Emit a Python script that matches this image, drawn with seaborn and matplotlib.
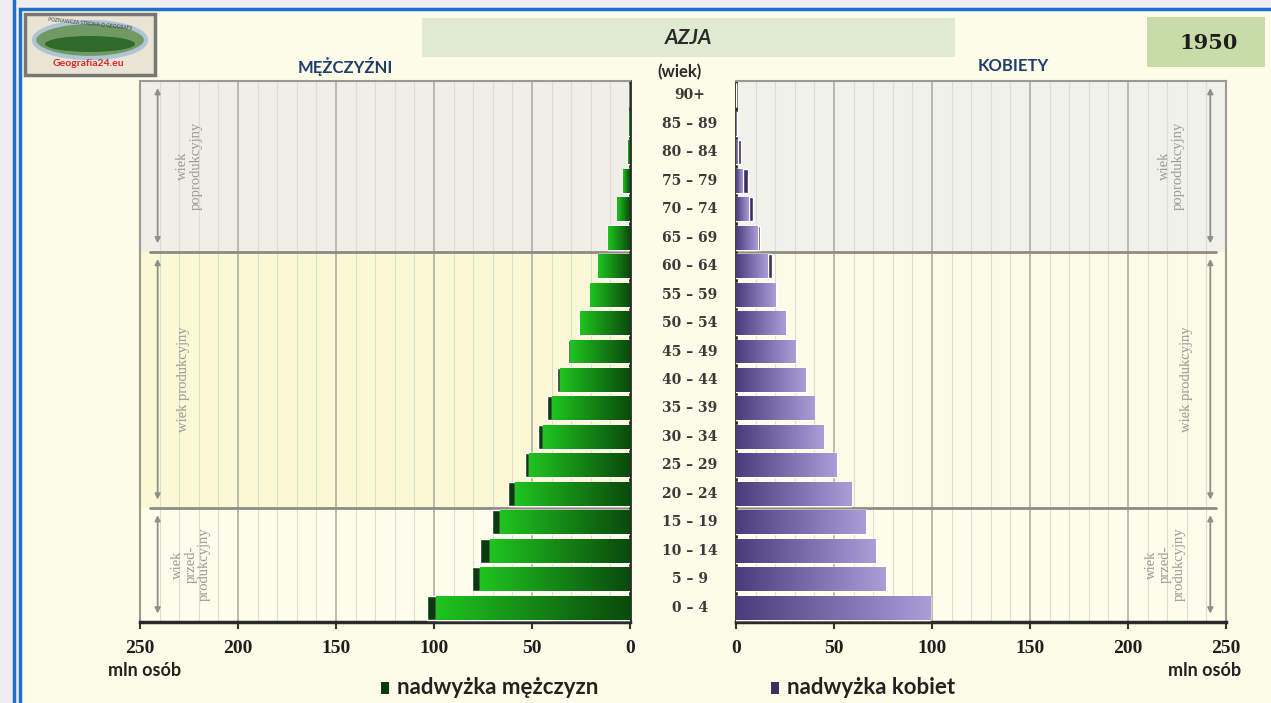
import numpy as np
import pandas as pd
import matplotlib
matplotlib.use("Agg")
import matplotlib.pyplot as plt
import seaborn as sns
import matplotlib.transforms as mtransforms
from matplotlib.colors import LinearSegmentedColormap
from matplotlib.patches import Rectangle, FancyArrowPatch, Ellipse

# ---------------- data ----------------
age_groups = ['0 – 4', '5 – 9', '10 – 14', '15 – 19', '20 – 24', '25 – 29', '30 – 34',
              '35 – 39', '40 – 44', '45 – 49', '50 – 54', '55 – 59', '60 – 64', '65 – 69',
              '70 – 74', '75 – 79', '80 – 84', '85 – 89', '90+']
males = [103.7, 80.8, 76.5, 70.6, 62.0, 53.6, 46.8, 42.5, 37.4, 31.8, 26.0, 20.4,
         16.2, 11.0, 6.5, 3.4, 1.0, 0.3, 0.0]
females = [99.0, 76.5, 71.4, 66.3, 58.7, 51.5, 44.6, 39.9, 35.7, 30.6, 25.5, 20.9,
           18.4, 12.2, 8.8, 5.9, 2.5, 0.6, 0.1]
x_ticks = [0, 50, 100, 150, 200, 250]
band_labels = ['wiek\nprzed-\nprodukcyjny', 'wiek produkcyjny', 'wiek\npoprodukcyjny']
band_ranges = [(0, 3), (4, 12), (13, 18)]   # index ranges in age_groups
title = 'AZJA'
year = '1950'
left_title = 'MĘŻCZYŹNI'
right_title = 'KOBIETY'
legend_m = 'nadwyżka mężczyzn'
legend_f = 'nadwyżka kobiet'
unit = 'mln osób'

# ---------------- style ----------------
sns.set_theme(style="white")
plt.rcParams['font.family'] = ['Lato', 'DejaVu Sans']

W, H = 1271, 703
cream = '#fcfce8'
green_inner, green_outer, green_surplus = '#0a4a0c', '#1fc41f', '#0b3a0d'
purple_inner, purple_outer, purple_surplus = '#4a3c7c', '#ab9dd8', '#3b2f5e'
serif = ['Liberation Serif', 'DejaVu Serif']

df = pd.DataFrame({'age': age_groups, 'male': males, 'female': females})
df['m_base'] = np.minimum(df['male'], df['female'])
df['f_base'] = np.minimum(df['male'], df['female'])
order = age_groups[::-1]
n = len(age_groups)

fig = plt.figure(figsize=(W / 100, H / 100), dpi=100)
fig.patch.set_facecolor('#efedf0')

# background / decoration layer in pixel coordinates
bg = fig.add_axes([0, 0, 1, 1], zorder=-5)
bg.set_xlim(0, W)
bg.set_ylim(H, 0)
bg.axis('off')
bg.add_patch(Rectangle((20, 9), W, H, facecolor=cream, edgecolor='#1f6fc8', lw=2.5))
bg.plot([14, 14], [0, H], color='#1f6fc8', lw=2.5)
# title boxes
bg.add_patch(Rectangle((422, 18), 533, 39, facecolor='#e0e9d2', edgecolor='none'))
bg.text(689, 37.5, title, ha='center', va='center', fontsize=15, fontweight='bold',
        fontstyle='italic', color='#2a2a2a')
bg.add_patch(Rectangle((1147, 17), 118, 50, facecolor='#c8dca8', edgecolor='none'))
bg.text(1209, 43, year, ha='center', va='center', fontsize=15, fontweight='bold',
        family=['DejaVu Serif'], color='#1e1e1e')
# logo
bg.add_patch(Rectangle((25, 14), 130, 61, facecolor='#e9e4d4', edgecolor='#777777', lw=2.5))
bg.add_patch(Ellipse((90, 40), 112, 36, facecolor='#6f9a64', edgecolor='#b0c4d8', lw=3))
bg.add_patch(Ellipse((90, 44), 90, 16, facecolor='#2f6a2a', edgecolor='none'))
bg.text(90, 24, 'POZNAWCZA STRONA O GEOGRAFII', ha='center', va='center', fontsize=3.5,
        color='#333333', rotation=-6)
bg.text(88, 63, 'Geografia24.eu', ha='center', va='center', fontsize=7.5, fontweight='bold',
        color='#d8282a')
# headers
bg.text(345, 66, left_title, ha='center', va='center', fontsize=12, fontweight='bold', color='#1f3d6e')
bg.text(1013, 66, right_title, ha='center', va='center', fontsize=12, fontweight='bold', color='#1f3d6e')
bg.text(680, 72, '(wiek)', ha='center', va='center', fontsize=12, fontweight='bold', color='#2b2b2b')
bg.text(145, 671, unit, ha='center', va='center', fontsize=13, fontweight='bold', color='#222222')
bg.text(1205, 671, unit, ha='center', va='center', fontsize=13, fontweight='bold', color='#222222')
# legend
bg.add_patch(Rectangle((381, 682), 8, 12, facecolor=green_surplus, edgecolor='none'))
bg.text(397, 688, legend_m, ha='left', va='center', fontsize=16, fontweight='bold', color='#222222')
bg.add_patch(Rectangle((771, 682), 8, 12, facecolor=purple_surplus, edgecolor='none'))
bg.text(787, 688, legend_f, ha='left', va='center', fontsize=16, fontweight='bold', color='#222222')

# plot axes
ax_b = (H - 622) / H
ax_h = (622 - 81) / H
axL = fig.add_axes([140 / W, ax_b, 490 / W, ax_h])
axR = fig.add_axes([736 / W, ax_b, 490 / W, ax_h])


def add_gradient(ax, patches, c_in, c_out):
    cmap = LinearSegmentedColormap.from_list('g', [c_in, c_out])
    grad = np.linspace(0, 1, 256).reshape(1, -1)
    for p in patches:
        w = p.get_width()
        if w <= 0:
            continue
        x0, y0, h = p.get_x(), p.get_y(), p.get_height()
        im = ax.imshow(grad, extent=[x0, x0 + w, y0 + h, y0], cmap=cmap, aspect='auto',
                       interpolation='bicubic', zorder=p.get_zorder() + 0.1)
        im.set_clip_path(p)


def style_panel(ax, side, c_in, c_out, c_sur, col_total, col_base, band_cols):
    ax.set_facecolor('none')
    sns.barplot(data=df, x=col_total, y='age', order=order, orient='h', color=c_sur,
                saturation=1, width=0.84, errorbar=None, ax=ax, zorder=3)
    n1 = len(ax.patches)
    sns.barplot(data=df, x=col_base, y='age', order=order, orient='h', color=c_in,
                saturation=1, width=0.84, errorbar=None, ax=ax, zorder=4)
    base_patches = ax.patches[n1:]
    add_gradient(ax, base_patches, c_in, c_out)

    # age bands
    for (lo, hi), col in zip(band_ranges, band_cols):
        ax.axhspan((n - 1 - lo) + 0.5, (n - 1 - hi) - 0.5, color=col, zorder=0, lw=0)
    for lo, hi in band_ranges[:-1]:
        ax.plot([0, 245], [(n - 1 - hi) - 0.5] * 2, color='#8c8c82', lw=2, zorder=2)

    # arrows + band labels
    xa = 241 if side == 'L' else 242
    for (lo, hi), lab in zip(band_ranges, band_labels):
        y_lo = (n - 1 - lo) + 0.3
        y_hi = (n - 1 - hi) - 0.35
        ax.add_patch(FancyArrowPatch((xa, y_lo), (xa, y_hi), arrowstyle='<|-|>',
                                     mutation_scale=8, color='#8f8f86', lw=1.3, zorder=2))
        if lab == 'wiek produkcyjny':
            xx = 228 if side == 'L' else 230
        elif lab.count('\n') == 2:
            xx = 224 if side == 'L' else 219
        else:
            xx = 225 if side == 'L' else 222
        ax.text(xx, (y_lo + y_hi) / 2, lab, rotation=90, ha='center', va='center',
                fontsize=10.5, family=serif, color='#9a9a92', linespacing=1.05,
                multialignment='center', zorder=2)

    ax.set_xlim(250, 0) if side == 'L' else ax.set_xlim(0, 250)
    ax.set_ylim(n - 0.5, -0.5)
    ax.set_xticks(x_ticks)
    ax.set_xticks(np.arange(0, 251, 10), minor=True)
    ax.set_xticklabels([str(t) for t in x_ticks], family=serif, fontweight='bold',
                       fontsize=14, color='#1e1e1e')
    ax.grid(True, which='major', axis='x', color='#a9a99c', lw=1.1, zorder=1)
    ax.grid(True, which='minor', axis='x', color='#dcdcd0', lw=0.8, zorder=1)
    ax.set_axisbelow(True)
    ax.tick_params(axis='x', which='major', direction='out', length=5, width=1.5,
                   color='#333333', pad=8, bottom=True)
    ax.tick_params(axis='x', which='minor', length=0)
    ax.set_yticks([])
    ax.set_xlabel('')
    ax.set_ylabel('')
    for s in ax.spines.values():
        s.set_visible(True)
        s.set_color('#9a9a90')
        s.set_linewidth(1.5)
    ax.spines['bottom'].set_color('#2a2a2a')
    ax.spines['bottom'].set_linewidth(2.5)
    inner = 'right' if side == 'L' else 'left'
    ax.spines[inner].set_color('#2a2a2a')
    ax.spines[inner].set_linewidth(2)


style_panel(axL, 'L', green_inner, green_outer, green_surplus, 'male', 'm_base',
            ['#fdfdec', '#fbf8d6', '#efefe8'])
style_panel(axR, 'R', purple_inner, purple_outer, purple_surplus, 'female', 'f_base',
            ['#fdfdec', '#fbfbe8', '#f1f1ec'])

# age labels between the panels
tr = mtransforms.blended_transform_factory(bg.transData, axL.transData)
for i, lab in enumerate(order):
    bg.text(690, i, lab, transform=tr, ha='center', va='center', fontsize=10,
            fontweight='bold', family=['DejaVu Serif'], color='#3a3a3a')

fig.savefig('out.png', dpi=100, facecolor=fig.get_facecolor())
